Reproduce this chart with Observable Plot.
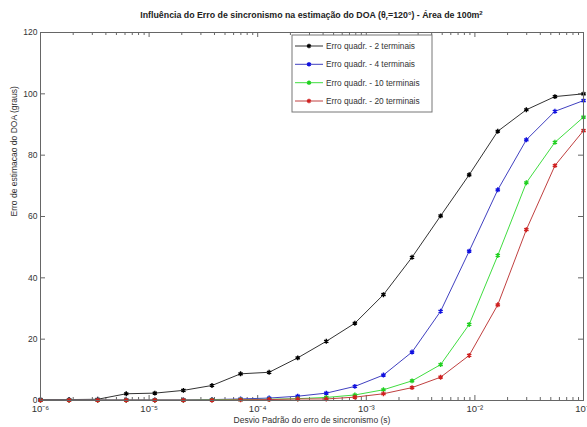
<!DOCTYPE html>
<html><head><meta charset="utf-8">
<script src="https://cdn.jsdelivr.net/npm/d3@7"></script>
<script src="https://cdn.jsdelivr.net/npm/@observablehq/plot@0.6"></script>
<style>body{margin:0;background:#fff} #chart{width:587px;height:427px}</style>
</head><body><div id="chart"></div>
<script>
// Data
const xValues = [1e-6, 1.833e-6, 3.360e-6, 6.158e-6, 1.129e-5, 2.069e-5, 3.793e-5, 6.952e-5, 1.274e-4, 2.336e-4,
                 4.281e-4, 7.848e-4, 1.438e-3, 2.637e-3, 4.833e-3, 8.859e-3, 1.624e-2, 2.976e-2, 5.456e-2, 1e-1];
const err2  = [0.3,0.3,0.4,2.2,2.4,3.3,4.9,8.7,9.2,13.9,19.3,25.2,34.5,46.7,60.2,73.6,87.8,94.8,99.1,100.0];
const err4  = [0.2,0.2,0.2,0.2,0.2,0.2,0.3,0.5,0.8,1.4,2.4,4.6,8.3,15.8,29.1,48.7,68.7,85.0,94.3,97.8];
const err10 = [0.1,0.1,0.1,0.1,0.1,0.1,0.2,0.3,0.4,0.6,1.0,1.8,3.5,6.4,11.7,24.8,47.3,71.0,84.2,92.4];
const err20 = [0.1,0.1,0.1,0.1,0.1,0.1,0.1,0.2,0.3,0.5,0.5,1.1,2.2,4.2,7.6,14.7,31.2,55.7,76.6,88.0];
const seriesNames = ["Erro quadr. - 2 terminais","Erro quadr. - 4 terminais","Erro quadr. - 10 terminais","Erro quadr. - 20 terminais"];
const seriesValues = [err2, err4, err10, err20];
const lineColors = ["#333333","#4040c0","#40dd40","#c04040"];
const markColors = ["#000000","#1010e0","#20d020","#d02020"];
const yTicks = [0,20,40,60,80,100,120];
const xTicks = [1e-6,1e-5,1e-4,1e-3,1e-2,1e-1];
const xTickLabels = ["10\u207B\u2076","10\u207B\u2075","10\u207B\u2074","10\u207B\u00B3","10\u207B\u00B2","10\u207B\u00B9"];
const xMinor = [];
for (const dec of xTicks.slice(0,5)) for (let m = 2; m <= 9; m++) xMinor.push(+(m*dec).toPrecision(3));

const data = [];
seriesNames.forEach((s, si) => seriesValues[si].forEach((v, i) => data.push({series: s, x: xValues[i], y: v})));

const W = 587, H = 427, mL = 40, mR = 4, mT = 32, mB = 27;
const iW = W - mL - mR, iH = H - mT - mB;
const axisColor = "#666";
const font = "'Liberation Sans', Arial, Helvetica, sans-serif";

const plot = Plot.plot({
  width: W, height: H,
  marginLeft: mL, marginRight: mR, marginTop: mT, marginBottom: mB,
  style: {fontFamily: font, fontSize: "8.5px", color: "#333", background: "#fff"},
  x: {type: "log", domain: [1e-6, 1e-1]},
  y: {domain: [0, 120]},
  color: {domain: seriesNames, range: lineColors},
  marks: [
    Plot.ruleX(xTicks, {stroke: axisColor, insetTop: iH - 5}),
    Plot.ruleX(xTicks, {stroke: axisColor, insetBottom: iH - 5}),
    Plot.ruleX(xMinor, {stroke: axisColor, insetTop: iH - 3}),
    Plot.ruleX(xMinor, {stroke: axisColor, insetBottom: iH - 3}),
    Plot.ruleY(yTicks, {stroke: axisColor, insetRight: iW - 5}),
    Plot.ruleY(yTicks, {stroke: axisColor, insetLeft: iW - 5}),
    Plot.axisX(xTicks, {tickSize: 0, tickPadding: 5, label: null, fontSize: 9.5,
      tickFormat: d => xTickLabels[xTicks.findIndex(t => Math.abs(t - d) / t < 1e-6)]}),
    Plot.axisY(yTicks, {tickSize: 0, tickPadding: 3, label: null, fontSize: 8.5}),
    Plot.line(data, {x: "x", y: "y", z: "series", stroke: "series", strokeWidth: 1}),
    Plot.dot(data, {x: "x", y: "y", symbol: "asterisk", r: 2.3, strokeWidth: 1.4,
      stroke: d => markColors[seriesNames.indexOf(d.series)]}),
    Plot.frame({stroke: axisColor}),
    Plot.text(["Desvio Padrão do erro de sincronismo (s)"], {frameAnchor: "bottom", dy: 22, fontSize: 8.5, fill: "#333"}),
    Plot.text(["Erro de estimacao do DOA (graus)"], {frameAnchor: "left", dx: -26, rotate: -90, fontSize: 8.5, fill: "#333"})
  ]
});
document.getElementById("chart").appendChild(plot);

const svg = d3.select(plot);
// Title
const title = svg.append("text")
  .attr("x", mL + iW / 2).attr("y", 18)
  .attr("text-anchor", "middle")
  .style("font-family", font).style("font-size", "8.8px").style("font-weight", "bold").attr("fill", "#222");
title.append("tspan").text("Influência do Erro de sincronismo na estimação do DOA (θ");
title.append("tspan").attr("dy", 2).style("font-size", "6px").text("r");
title.append("tspan").attr("dy", -2).text("=120°) - Área de 100m");
title.append("tspan").attr("dy", -3).style("font-size", "6px").text("2");

// Legend
const lg = svg.append("g").attr("text-anchor", "start");
lg.append("rect").attr("x", 292).attr("y", 35).attr("width", 140).attr("height", 77)
  .attr("fill", "#fff").attr("stroke", "#777");
const rowY = [46, 64.3, 82.7, 101];
const sym = d3.symbol(d3.symbolAsterisk, 14);
seriesNames.forEach((s, i) => {
  lg.append("line").attr("x1", 295).attr("x2", 323).attr("y1", rowY[i]).attr("y2", rowY[i])
    .attr("stroke", lineColors[i]).attr("stroke-width", 1);
  lg.append("path").attr("d", sym()).attr("transform", `translate(309,${rowY[i]})`)
    .attr("stroke", markColors[i]).attr("stroke-width", 1.4).attr("fill", "none");
  lg.append("text").attr("x", 326).attr("y", rowY[i]).attr("dy", "0.35em").attr("text-anchor", "start")
    .style("font-family", font).style("font-size", "8.3px").attr("fill", "#333").text(s);
});
</script>
</body></html>
